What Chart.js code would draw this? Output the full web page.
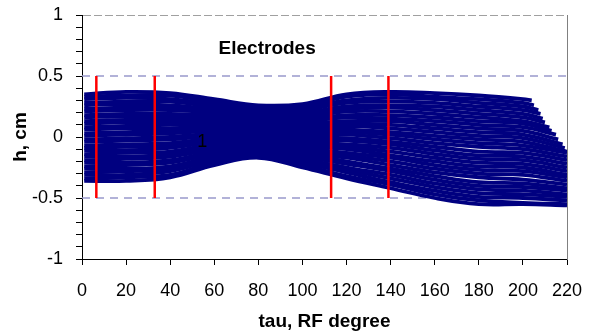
<!DOCTYPE html>
<html>
<head>
<meta charset="utf-8">
<script src="https://cdn.jsdelivr.net/npm/chart.js@4.4.1/dist/chart.umd.min.js"></script>
<style>
  html, body { margin: 0; padding: 0; background: #fff; }
</style>
</head>
<body>
<canvas id="beam-chart" width="594" height="333"></canvas>
<script>
const TAU = [1, 20, 40, 60, 80, 100, 120, 140, 160, 180, 200];

// particle trajectories h (cm), bottom of the bundle to top
const TRACKS = [
  [-0.36, -0.36, -0.33, -0.23, -0.17, -0.25, -0.34, -0.42, -0.50, -0.55, -0.55],
  [-0.34, -0.33, -0.31, -0.21, -0.16, -0.23, -0.32, -0.39, -0.47, -0.52, -0.54],
  [-0.31, -0.31, -0.28, -0.19, -0.14, -0.21, -0.29, -0.37, -0.44, -0.49, -0.50],
  [-0.29, -0.28, -0.26, -0.17, -0.13, -0.20, -0.27, -0.34, -0.41, -0.46, -0.47],
  [-0.26, -0.26, -0.24, -0.16, -0.11, -0.18, -0.25, -0.31, -0.38, -0.43, -0.44],
  [-0.24, -0.23, -0.21, -0.14, -0.10, -0.16, -0.22, -0.28, -0.35, -0.40, -0.41],
  [-0.21, -0.21, -0.19, -0.12, -0.08, -0.14, -0.20, -0.26, -0.32, -0.37, -0.38],
  [-0.19, -0.18, -0.16, -0.10, -0.07, -0.13, -0.17, -0.23, -0.29, -0.33, -0.35],
  [-0.16, -0.16, -0.14, -0.08, -0.05, -0.11, -0.15, -0.20, -0.26, -0.30, -0.31],
  [-0.14, -0.13, -0.12, -0.06, -0.04, -0.09, -0.13, -0.17, -0.23, -0.27, -0.28],
  [-0.11, -0.11, -0.09, -0.04, -0.02, -0.07, -0.10, -0.15, -0.20, -0.24, -0.25],
  [-0.09, -0.08, -0.07, -0.03, -0.01, -0.05, -0.08, -0.12, -0.17, -0.21, -0.22],
  [-0.07, -0.06, -0.05, -0.01, 0.01, -0.04, -0.06, -0.09, -0.14, -0.18, -0.19],
  [-0.04, -0.03, -0.02, 0.01, 0.02, -0.02, -0.03, -0.06, -0.11, -0.15, -0.16],
  [-0.02, -0.01, 0.00, 0.03, 0.04, 0.00, -0.01, -0.04, -0.08, -0.12, -0.13],
  [0.01, 0.02, 0.03, 0.05, 0.05, 0.02, 0.02, -0.01, -0.05, -0.08, -0.10],
  [0.03, 0.04, 0.05, 0.07, 0.07, 0.04, 0.04, 0.02, -0.02, -0.05, -0.07],
  [0.06, 0.07, 0.07, 0.09, 0.08, 0.06, 0.06, 0.04, 0.01, -0.02, -0.04],
  [0.08, 0.09, 0.10, 0.11, 0.10, 0.07, 0.09, 0.07, 0.04, 0.01, -0.01],
  [0.11, 0.12, 0.12, 0.12, 0.11, 0.09, 0.11, 0.10, 0.07, 0.04, 0.02],
  [0.13, 0.14, 0.14, 0.14, 0.13, 0.11, 0.13, 0.13, 0.10, 0.07, 0.05],
  [0.16, 0.17, 0.17, 0.16, 0.14, 0.13, 0.16, 0.15, 0.13, 0.10, 0.08],
  [0.18, 0.19, 0.19, 0.18, 0.16, 0.15, 0.18, 0.18, 0.16, 0.13, 0.11],
  [0.21, 0.22, 0.22, 0.20, 0.17, 0.16, 0.21, 0.21, 0.19, 0.16, 0.13],
  [0.23, 0.24, 0.24, 0.22, 0.19, 0.18, 0.23, 0.24, 0.22, 0.19, 0.16],
  [0.26, 0.27, 0.26, 0.23, 0.20, 0.20, 0.25, 0.26, 0.25, 0.22, 0.19],
  [0.28, 0.29, 0.29, 0.25, 0.22, 0.22, 0.28, 0.29, 0.28, 0.25, 0.22],
  [0.31, 0.32, 0.31, 0.27, 0.23, 0.24, 0.30, 0.32, 0.31, 0.28, 0.25],
  [0.33, 0.34, 0.34, 0.29, 0.25, 0.25, 0.33, 0.35, 0.33, 0.31, 0.28],
  [0.35, 0.37, 0.36, 0.31, 0.26, 0.27, 0.35, 0.37, 0.36, 0.34, 0.31],
];

// where each trajectory stops on the right (ragged end)
const END_TAU = [220, 220, 220, 220, 220, 220, 220, 220, 220, 220, 220, 220, 220, 220, 220, 220, 220,
                 220, 219, 218, 216, 215, 213, 212, 210, 209, 208, 207, 205, 204];
const END_H = [-0.56, -0.55, -0.52, -0.49, -0.47, -0.44, -0.42, -0.39, -0.36, -0.33, -0.31, -0.28,
               -0.25, -0.22, -0.19, -0.16, -0.13, -0.12, -0.09, -0.06, -0.02, 0.02, 0.05, 0.08,
               0.12, 0.15, 0.19, 0.22, 0.26, 0.30];

// electrode edges (red markers) and aperture limits
const ELECTRODE_TAU = [6.5, 33, 113, 139];
const ELECTRODE_H = [-0.5, 0.5];
const APERTURE_H = [-0.5, 0.5];
const X_RANGE = [0, 220];

const FONT = "'Liberation Sans', Arial, sans-serif";

const datasets = [];

ELECTRODE_TAU.forEach((t) => {
  datasets.push({
    data: ELECTRODE_H.map((h) => ({ x: t, y: h })),
    borderColor: '#ff0000',
    borderWidth: 2.5,
    pointRadius: 0,
    tension: 0,
  });
});

TRACKS.forEach((track, i) => {
  const pts = track.map((h, j) => ({ x: TAU[j], y: h }));
  pts.push({ x: END_TAU[i], y: END_H[i] });
  datasets.push({
    data: pts,
    borderColor: '#000080',
    borderWidth: 3.8,
    pointRadius: 0,
    tension: 0.4,
  });
});

APERTURE_H.forEach((h) => {
  datasets.push({
    data: X_RANGE.map((t) => ({ x: t, y: h })),
    borderColor: '#9999cc',
    borderWidth: 1.3,
    borderDash: [8, 6],
    pointRadius: 0,
    tension: 0,
  });
});

// text labels placed in data coordinates
const labelPlugin = {
  id: 'labels',
  afterDatasetsDraw(chart) {
    const { ctx, scales } = chart;
    ctx.save();
    ctx.fillStyle = '#000';
    ctx.textAlign = 'center';
    ctx.textBaseline = 'middle';
    ctx.font = `bold 19px ${FONT}`;
    ctx.fillText('Electrodes', scales.x.getPixelForValue(84), scales.y.getPixelForValue(0.72));
    ctx.font = `18px ${FONT}`;
    ctx.fillText('1', scales.x.getPixelForValue(54.5), scales.y.getPixelForValue(-0.045));
    ctx.restore();
  },
};

new Chart(document.getElementById('beam-chart'), {
  type: 'line',
  data: { datasets },
  options: {
    responsive: false,
    animation: false,
    layout: { padding: { left: 0, right: 27, top: 15, bottom: 0 } },
    plugins: {
      legend: { display: false },
      tooltip: { enabled: false },
    },
    scales: {
      x: {
        type: 'linear',
        min: 0,
        max: 220,
        afterFit: (scale) => {
          scale.height = 74;
          scale.paddingLeft = 0;
          scale.paddingRight = 0;
        },
        ticks: {
          stepSize: 20,
          color: '#000',
          padding: 15,
          maxRotation: 0,
          font: { family: FONT, size: 18 },
        },
        grid: {
          drawOnChartArea: false,
          drawTicks: true,
          tickLength: 6,
          tickColor: '#000',
        },
        border: { color: '#000', width: 1 },
        title: {
          display: true,
          text: 'tau, RF degree',
          color: '#000',
          font: { family: FONT, size: 19, weight: 'bold' },
          padding: { top: 0, bottom: 0 },
        },
      },
      y: {
        min: -1,
        max: 1,
        afterFit: (scale) => {
          scale.width = 82;
          scale.paddingTop = 0;
          scale.paddingBottom = 0;
        },
        ticks: {
          stepSize: 0.1,
          autoSkip: false,
          color: '#000',
          padding: 13,
          font: { family: FONT, size: 18 },
          callback: (v) => {
            const r = Math.round(v * 10);
            return r % 5 === 0 ? String(r / 10) : '';
          },
        },
        grid: {
          drawTicks: true,
          tickLength: 6,
          tickColor: '#000',
          color: (c) => (Math.round(c.tick.value * 10) === 10 ? '#a0a0a0' : 'rgba(0,0,0,0)'),
        },
        border: { color: '#000', width: 1, dash: [8, 3] },
        title: {
          display: true,
          text: 'h, cm',
          color: '#000',
          font: { family: FONT, size: 19, weight: 'bold' },
          padding: { top: 9, bottom: 0 },
        },
      },
      y2: {
        position: 'right',
        min: -1,
        max: 1,
        afterFit: (scale) => {
          scale.width = 0;
          scale.paddingTop = 0;
          scale.paddingBottom = 0;
        },
        ticks: { display: false },
        grid: { drawOnChartArea: false, drawTicks: false },
        border: { color: '#808080', width: 1 },
      },
    },
  },
  plugins: [labelPlugin],
});
</script>
</body>
</html>
